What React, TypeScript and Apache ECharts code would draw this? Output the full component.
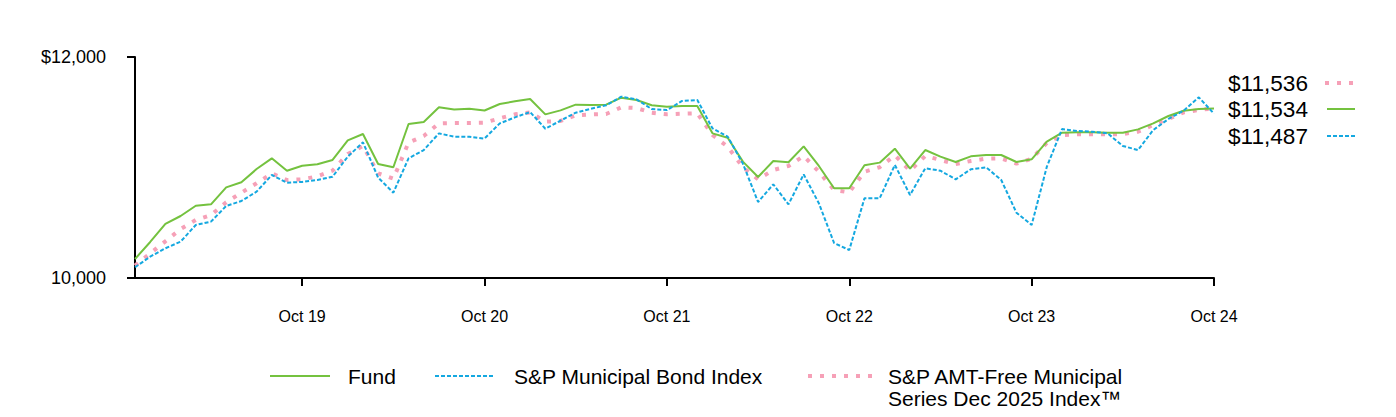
import React, { useEffect, useRef } from "react";
import * as echarts from "echarts";

const FONT = "'Liberation Sans', Arial, Helvetica, sans-serif";

// Monthly points, Nov 2018 .. Oct 2024
const monthNames = ["Nov", "Dec", "Jan", "Feb", "Mar", "Apr", "May", "Jun", "Jul", "Aug", "Sep", "Oct"];
const startYear = 18;
const yearCount = 6;
const categories: string[] = [];
for (let y = 0; y < yearCount; y++) {
  monthNames.forEach((m, k) => {
    const yr = k < 2 ? startYear + y : startYear + y + 1;
    categories.push(`${m} ${yr}`);
  });
}

const fund = [
  10172, 10326, 10489, 10561, 10654, 10667, 10820, 10866, 10986, 11083, 10971, 11016,
  11029, 11068, 11246, 11303, 11032, 11002, 11394, 11412, 11545, 11524, 11532, 11516,
  11575, 11599, 11620, 11481, 11517, 11569, 11566, 11569, 11632, 11611, 11563, 11549,
  11557, 11557, 11309, 11270, 11053, 10914, 11059, 11047, 11191, 11014, 10812, 10812,
  11020, 11044, 11170, 10989, 11158, 11098, 11050, 11101, 11113, 11113, 11050, 11074,
  11234, 11315, 11318, 11318, 11315, 11315, 11345, 11399, 11466, 11514, 11529, 11534,
];

const muniBond = [
  10097, 10193, 10269, 10329, 10480, 10510, 10652, 10697, 10781, 10932, 10863, 10869,
  10887, 10917, 11098, 11228, 10908, 10772, 11083, 11158, 11309, 11279, 11279, 11262,
  11399, 11454, 11502, 11351, 11424, 11496, 11532, 11563, 11641, 11617, 11529, 11520,
  11602, 11611, 11354, 11279, 11035, 10688, 10848, 10667, 10938, 10676, 10317, 10253,
  10721, 10721, 11023, 10751, 10993, 10971, 10893, 10984, 11002, 10887, 10591, 10480,
  11007, 11348, 11330, 11324, 11309, 11195, 11158, 11339, 11439, 11514, 11635, 11487,
];

const amtFree = [
  10112, 10223, 10332, 10443, 10525, 10570, 10685, 10772, 10857, 10947, 10887, 10893,
  10920, 10971, 11122, 11195, 10947, 10899, 11225, 11285, 11399, 11403, 11403, 11406,
  11445, 11481, 11499, 11415, 11421, 11472, 11481, 11484, 11545, 11538, 11496, 11481,
  11487, 11490, 11294, 11188, 11002, 10893, 10977, 11014, 11104, 10962, 10796, 10775,
  10962, 11002, 11110, 10971, 11104, 11068, 11032, 11059, 11080, 11083, 11035, 11080,
  11222, 11294, 11300, 11300, 11300, 11303, 11324, 11385, 11439, 11499, 11520, 11536,
];

const yTickLabels: Record<number, string> = { 10000: "10,000", 12000: "$12,000" };
const endLabels = ["$11,536", "$11,534", "$11,487"];
const legendNames = ["Fund", "S&P Municipal Bond Index", "S&P AMT-Free Municipal\nSeries Dec 2025 Index\u2122"];

const GREEN = "#74C23F";
const BLUE = "#14A8E0";
const PINK = "#F6A0B7";

const pinkStyle = { stroke: PINK, lineWidth: 4, lineDash: [4, 8] };
const greenStyle = { stroke: GREEN, lineWidth: 2 };
const blueStyle = { stroke: BLUE, lineWidth: 2, lineDash: [4, 2] };

export default function App() {
  const ref = useRef<HTMLDivElement>(null);
  useEffect(() => {
    if (!ref.current) return;
    const chart = echarts.init(ref.current, null, { renderer: "svg" });
    const isOct = (_i: number, v: string) => v.startsWith("Oct");
    const textEl = (x: number, y: number, text: string, size: number, va = "middle", lh?: number) => ({
      type: "text",
      x,
      y,
      style: {
        text,
        fill: "#000",
        fontSize: size,
        fontFamily: FONT,
        lineHeight: lh,
        align: "left",
        verticalAlign: va,
        textAlign: "left",
        textVerticalAlign: va,
      },
    });
    const lineEl = (x1: number, x2: number, y: number, style: any) => ({
      type: "line",
      shape: { x1, y1: y, x2, y2: y },
      style,
    });
    chart.setOption({
      animation: false,
      grid: { left: 135, right: 182, top: 57, bottom: 139 },
      xAxis: {
        type: "category",
        data: categories,
        boundaryGap: false,
        axisLine: { lineStyle: { color: "#000", width: 2 } },
        axisTick: { show: true, interval: isOct, length: 8, lineStyle: { color: "#000", width: 2 } },
        axisLabel: { interval: isOct, color: "#000", fontSize: 16, fontFamily: FONT, margin: 30 },
        splitLine: { show: false },
      },
      yAxis: {
        type: "value",
        min: 10000,
        max: 12000,
        interval: 2000,
        axisLine: { show: true, lineStyle: { color: "#000", width: 2 } },
        axisTick: { show: true, length: 8, lineStyle: { color: "#000", width: 2 } },
        splitLine: { show: false },
        axisLabel: {
          color: "#000",
          fontSize: 18,
          fontFamily: FONT,
          margin: 29,
          formatter: (v: number) => yTickLabels[v] ?? "",
        },
      },
      series: [
        {
          name: legendNames[2],
          type: "line",
          data: amtFree,
          symbol: "none",
          lineStyle: { color: PINK, width: 4, type: [4, 8] },
        },
        {
          name: legendNames[0],
          type: "line",
          data: fund,
          symbol: "none",
          lineStyle: { color: GREEN, width: 2 },
        },
        {
          name: legendNames[1],
          type: "line",
          data: muniBond,
          symbol: "none",
          lineStyle: { color: BLUE, width: 2, type: [4, 2] },
        },
      ],
      graphic: [
        textEl(1228, 83, endLabels[0], 22.6),
        lineEl(1325, 1355, 83, pinkStyle),
        textEl(1228, 109, endLabels[1], 22.6),
        lineEl(1327, 1355, 109, greenStyle),
        textEl(1228, 136, endLabels[2], 22.6),
        lineEl(1327, 1355, 136, blueStyle),
        lineEl(270, 330, 376, greenStyle),
        textEl(348, 376, legendNames[0], 21),
        lineEl(435, 495, 376, blueStyle),
        textEl(514, 376, legendNames[1], 21),
        lineEl(808, 880, 376, pinkStyle),
        textEl(888, 365, legendNames[2], 21, "top", 22),
      ],
    });
    return () => chart.dispose();
  }, []);
  return (
    <div
      ref={ref}
      style={{ position: "fixed", left: 0, top: 0, width: 1396, height: 417, background: "#fff" }}
    />
  );
}
